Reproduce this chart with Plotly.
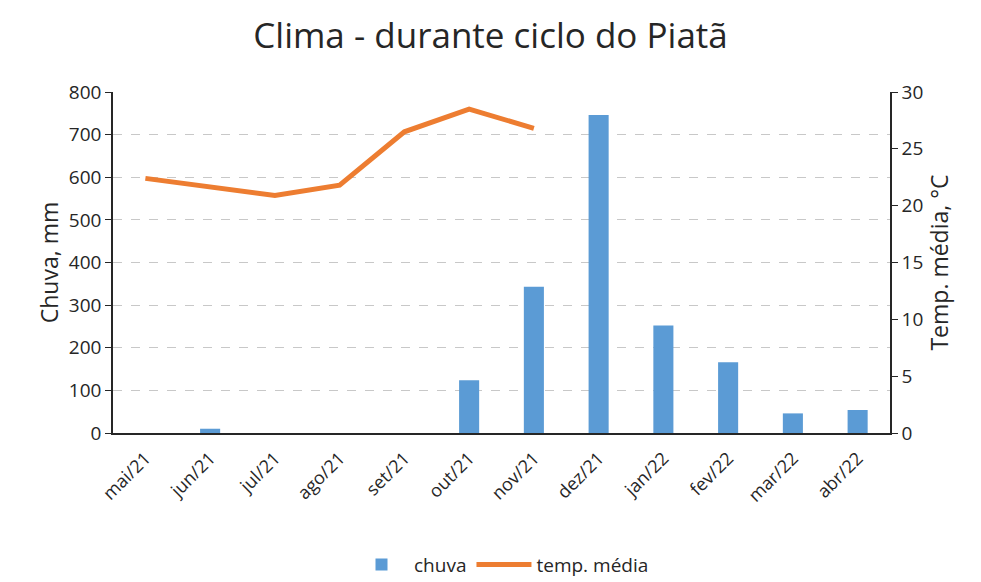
import plotly.graph_objects as go

meses = ["mai/21", "jun/21", "jul/21", "ago/21", "set/21", "out/21",
         "nov/21", "dez/21", "jan/22", "fev/22", "mar/22", "abr/22"]
chuva = [0, 10, 0, 0, 0, 124, 343, 746, 252, 166, 46, 54]
temp_meses = ["mai/21", "jun/21", "jul/21", "ago/21", "set/21", "out/21", "nov/21"]
temp_media = [22.4, 21.6, 20.9, 21.8, 26.5, 28.5, 26.8]

FONT = "Open Sans"

fig = go.Figure()
fig.add_trace(go.Bar(x=meses, y=chuva, name="chuva", marker_color="#5B9BD5",
                     marker_line_width=0, yaxis="y"))
fig.add_trace(go.Scatter(x=temp_meses, y=temp_media, name="temp. média", mode="lines",
                         line=dict(color="#ED7D31", width=5), yaxis="y2"))

fig.update_layout(
    width=981, height=582,
    paper_bgcolor="white", plot_bgcolor="white",
    font=dict(family=FONT, color="#262626", size=18),
    margin=dict(l=113, r=91, t=92, b=149, autoexpand=False),
    title=dict(text="Clima - durante ciclo do Piatã", x=0.5, xanchor="center",
               y=0.938, yanchor="middle", font=dict(size=35, family=FONT, color="#262626")),
    bargap=0.69,
    xaxis=dict(type="category", showline=True, linecolor="#262626", linewidth=1.5,
               ticks="", tickangle=-45, tickfont=dict(size=18), showgrid=False,
               ticklabelstandoff=6, automargin=False),
    yaxis=dict(range=[0, 800], dtick=100, showline=True, linecolor="#262626", linewidth=1.5,
               ticks="outside", ticklen=6, tickcolor="#262626",
               showgrid=True, gridcolor="#C8C8C8", griddash="dash", gridwidth=1,
               title=dict(text="Chuva, mm", font=dict(size=23), standoff=4),
               zeroline=False, tickfont=dict(size=19)),
    yaxis2=dict(range=[0, 30], dtick=5, overlaying="y", side="right", showline=True,
                linecolor="#262626", linewidth=1.5, ticks="outside", ticklen=6,
                tickcolor="#262626", showgrid=False, zeroline=False,
                title=dict(text="Temp. média, °C", font=dict(size=23), standoff=8),
                tickfont=dict(size=19)),
    legend=dict(orientation="h", x=0.5, xanchor="center", yref="container",
                y=0.03, yanchor="middle", font=dict(size=19), itemwidth=55),
    showlegend=True,
)

fig.write_html("out.html", config={"displayModeBar": False},
               post_script="document.body.style.margin='0';")
